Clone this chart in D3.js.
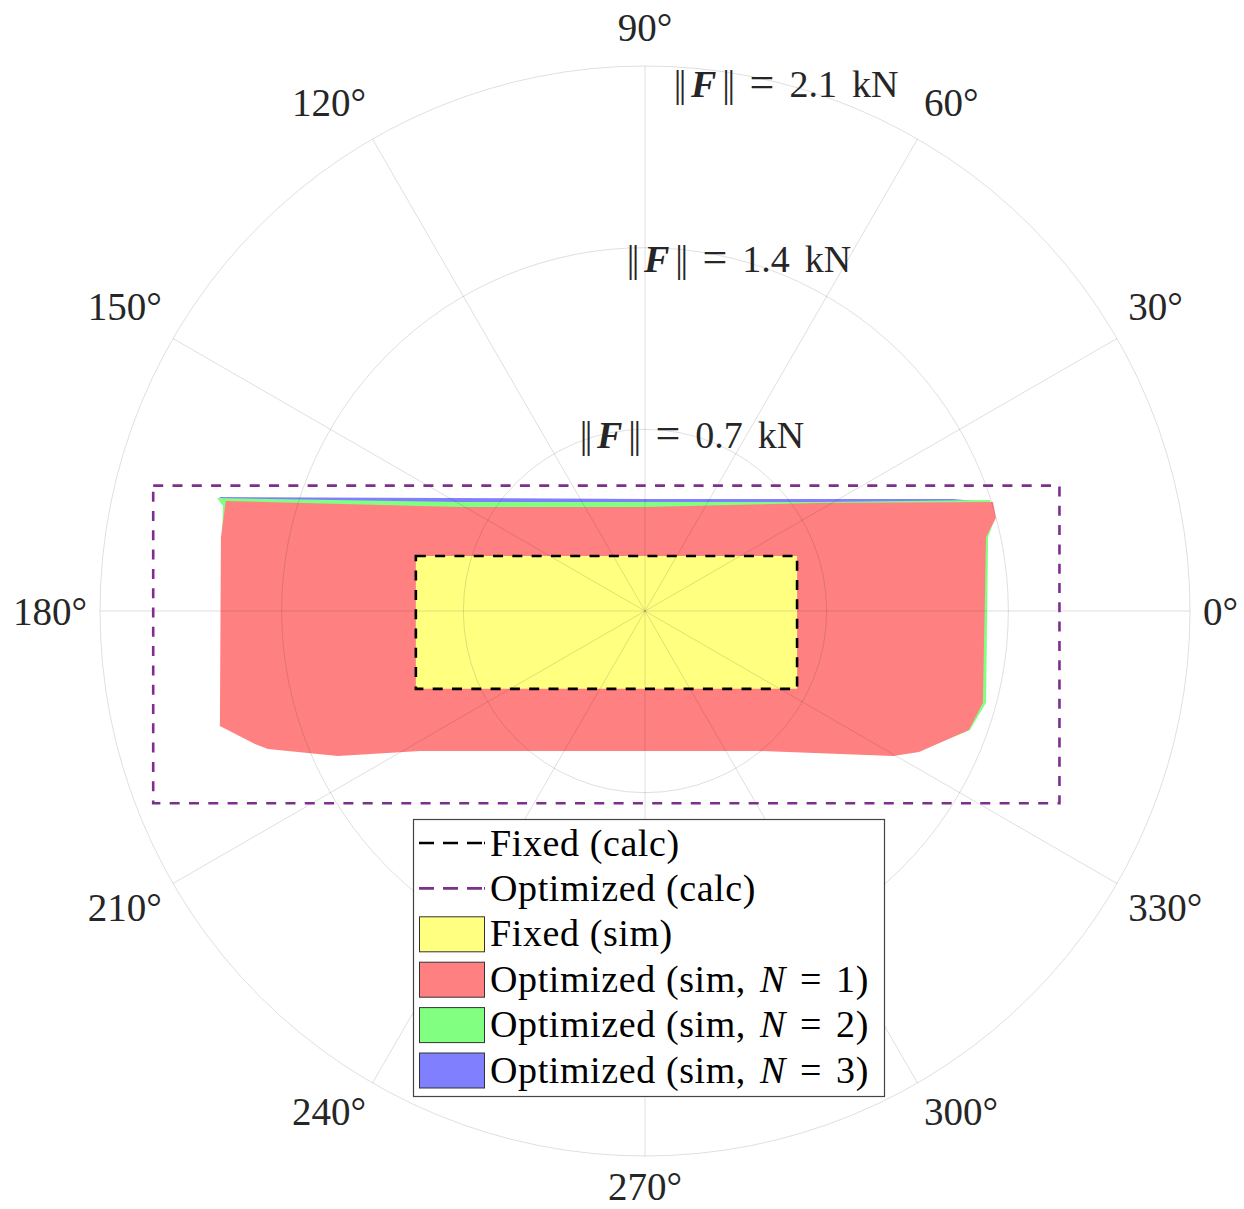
<!DOCTYPE html>
<html>
<head>
<meta charset="utf-8">
<script src="https://cdn.jsdelivr.net/npm/d3@7"></script>
<style>
  body { margin: 0; background: #fff; }
  text { font-family: "Liberation Serif", "Times New Roman", serif; fill: #262626; }
</style>
</head>
<body>
<svg id="chart" width="1244" height="1209"></svg>
<script>
// ---- polar axis definition ----
const thetaTicks = [0, 30, 60, 90, 120, 150, 180, 210, 240, 270, 300, 330];
const thetaTickLabels = ["0°", "30°", "60°", "90°", "120°", "150°", "180°", "210°", "240°", "270°", "300°", "330°"];
const ringValues = [0.7, 1.4, 2.1];
const ringLabels = ["0.7", "1.4", "2.1"];
const rMax = 2.1;
const ringLabelAngle = 75;

// ---- force envelopes, Fx / Fy in kN ----
const fixedCalcFx = [-0.883, 0.586, 0.586, -0.883];
const fixedCalcFy = [0.212, 0.212, -0.300, -0.300];

const optCalcFx = [-1.895, 1.597, 1.597, -1.895];
const optCalcFy = [0.483, 0.483, -0.741, -0.741];

const fixedSimFx = [-0.883, 0.586, 0.586, -0.883];
const fixedSimFy = [0.212, 0.212, -0.300, -0.300];

const optSimN1Fx = [-1.615, -0.713, 0.000, 0.674, 1.341, 1.352, 1.314, 1.302, 1.248, 1.056, 0.956, 0.432, -0.867, -1.183, -1.453, -1.503, -1.638, -1.634];
const optSimN1Fy = [0.424, 0.401, 0.401, 0.416, 0.420, 0.358, 0.285, -0.354, -0.459, -0.543, -0.559, -0.539, -0.539, -0.559, -0.532, -0.512, -0.443, 0.285];

const optSimN2Fx = [-1.649, -0.713, 0.674, 1.329, 1.349, 1.322, 1.314, 1.252, 1.056, 0.956, 0.432, -0.867, -1.183, -1.453, -1.503, -1.630, -1.630, -1.626];
const optSimN2Fy = [0.435, 0.420, 0.420, 0.428, 0.358, 0.285, -0.354, -0.459, -0.540, -0.556, -0.536, -0.536, -0.556, -0.529, -0.509, -0.443, 0.285, 0.405];

const optSimN3Fx = [-1.641, 0.000, 1.187, 1.341, 1.318, 1.306, 1.245, 1.053, 0.953, 0.432, -0.867, -1.180, -1.450, -1.500, -1.600, -1.600, -1.612];
const optSimN3Fy = [0.439, 0.432, 0.432, 0.418, 0.285, -0.354, -0.457, -0.540, -0.555, -0.535, -0.535, -0.555, -0.528, -0.508, -0.442, 0.285, 0.416];

// ---- legend ----
const legendLabels = [
  ["Fixed (calc)"],
  ["Optimized (calc)"],
  ["Fixed (sim)"],
  ["Optimized (sim, ", "N", "=", "1)"],
  ["Optimized (sim, ", "N", "=", "2)"],
  ["Optimized (sim, ", "N", "=", "3)"]
];
const legendKinds = ["line", "line", "patch", "patch", "patch", "patch"];
const legendColors = ["#000000", "#7e2f8e", "#ffff80", "#ff8080", "#80ff80", "#8080ff"];

// ---- layout ----
const svg = d3.select("#chart");
const cx = 645, cy = 611, R = 545;

const r = d3.scaleLinear().domain([0, rMax]).range([0, R]);
const x = d3.scaleLinear().domain([-rMax, rMax]).range([cx - R, cx + R]);
const y = d3.scaleLinear().domain([-rMax, rMax]).range([cy + R, cy - R]);

const zip = (a, b) => a.map((v, i) => [v, b[i]]);
const polyLine = d3.line().x(d => x(d[0])).y(d => y(d[1]));
const closed = pts => polyLine(pts) + "Z";

// filled envelopes (back to front)
const fills = [
  [optSimN3Fx, optSimN3Fy, "#8080ff"],
  [optSimN2Fx, optSimN2Fy, "#80ff80"],
  [optSimN1Fx, optSimN1Fy, "#ff8080"],
  [fixedSimFx, fixedSimFy, "#ffff80"]
];
svg.append("g").selectAll("path").data(fills).join("path")
  .attr("d", d => closed(zip(d[0], d[1])))
  .attr("fill", d => d[2])
  .attr("stroke", "none");

// grid on top of the fills
const grid = svg.append("g")
  .attr("fill", "none")
  .attr("stroke", "#262626")
  .attr("stroke-opacity", 0.15)
  .attr("stroke-width", 1);

grid.selectAll("circle").data(ringValues).join("circle")
  .attr("cx", cx).attr("cy", cy).attr("r", d => r(d));

grid.selectAll("line").data(thetaTicks).join("line")
  .attr("x1", cx).attr("y1", cy)
  .attr("x2", d => cx + r(rMax) * Math.cos(d * Math.PI / 180))
  .attr("y2", d => cy - r(rMax) * Math.sin(d * Math.PI / 180));

// calculated envelopes (dashed)
const outlines = [
  [optCalcFx, optCalcFy, "#7e2f8e"],
  [fixedCalcFx, fixedCalcFy, "#000000"]
];
svg.append("g").selectAll("path").data(outlines).join("path")
  .attr("d", d => closed(zip(d[0], d[1])))
  .attr("fill", "none")
  .attr("stroke", d => d[2])
  .attr("stroke-width", 2.6)
  .attr("stroke-dasharray", "10 9.3");

// angle labels: the text box touches a circle just outside the axis,
// aligned away from the centre
const labelR = 558;
const angG = svg.append("g").attr("font-size", 39);
angG.selectAll("text").data(thetaTicks).join("text")
  .text((d, i) => thetaTickLabels[i])
  .each(function (d) {
    const a = d * Math.PI / 180;
    const c = Math.cos(a), s = Math.sin(a);
    const px = cx + labelR * c, py = cy - labelR * s;
    const anchor = c > 0.01 ? "start" : (c < -0.01 ? "end" : "middle");
    const base = s > 0.01 ? py - 12 : (s < -0.01 ? py + 31 : py + 13.5);
    d3.select(this).attr("x", px).attr("y", base).attr("text-anchor", anchor);
  });

// ring labels  ||F|| = value kN
const ringG = svg.append("g").attr("font-size", 38);
ringValues.forEach((v, i) => {
  const a = ringLabelAngle * Math.PI / 180;
  const t = ringG.append("text")
    .attr("x", cx + r(v) * Math.cos(a))
    .attr("y", cy - r(v) * Math.sin(a))
    .attr("dy", "0.32em")
    .attr("text-anchor", "middle");
  t.append("tspan").attr("letter-spacing", -2.5).text("||");
  t.append("tspan").attr("dx", 7).attr("font-weight", "bold").attr("font-style", "italic").text("F");
  t.append("tspan").attr("dx", 6).attr("letter-spacing", -2.5).text("||");
  t.append("tspan").attr("dx", 17).attr("font-size", 44).text("=");
  t.append("tspan").attr("dx", 15).text(ringLabels[i]);
  t.append("tspan").attr("dx", 15).text("kN");
});

// legend
const lg = svg.append("g");
lg.append("rect")
  .attr("x", 413.5).attr("y", 819.5).attr("width", 471).attr("height", 277)
  .attr("fill", "#fff").attr("stroke", "#444").attr("stroke-width", 1.2);

const rowY = i => 843 + i * 45.4;
legendLabels.forEach((parts, i) => {
  const yy = rowY(i);
  if (legendKinds[i] === "line") {
    lg.append("line")
      .attr("x1", 419).attr("x2", 485).attr("y1", yy).attr("y2", yy)
      .attr("stroke", legendColors[i]).attr("stroke-width", 2.6)
      .attr("stroke-dasharray", "15 9 15 9 15 2 1.5 100");
  } else {
    lg.append("rect")
      .attr("x", 419.5).attr("y", yy - 17).attr("width", 65).attr("height", 35)
      .attr("fill", legendColors[i]).attr("stroke", "#333").attr("stroke-width", 1);
  }
  const t = lg.append("text")
    .attr("x", 490).attr("y", yy).attr("dy", "0.33em")
    .attr("font-size", 38).attr("letter-spacing", 0.6)
    .style("fill", "#000");
  parts.forEach((p, j) => {
    const s = t.append("tspan").text(p).style("white-space", "pre");
    if (p === "N") s.attr("font-style", "italic").attr("dx", 4);
    if (p === "=") s.attr("dx", 14);
    if (j === 3) s.attr("dx", 14);
  });
});
</script>
</body>
</html>
